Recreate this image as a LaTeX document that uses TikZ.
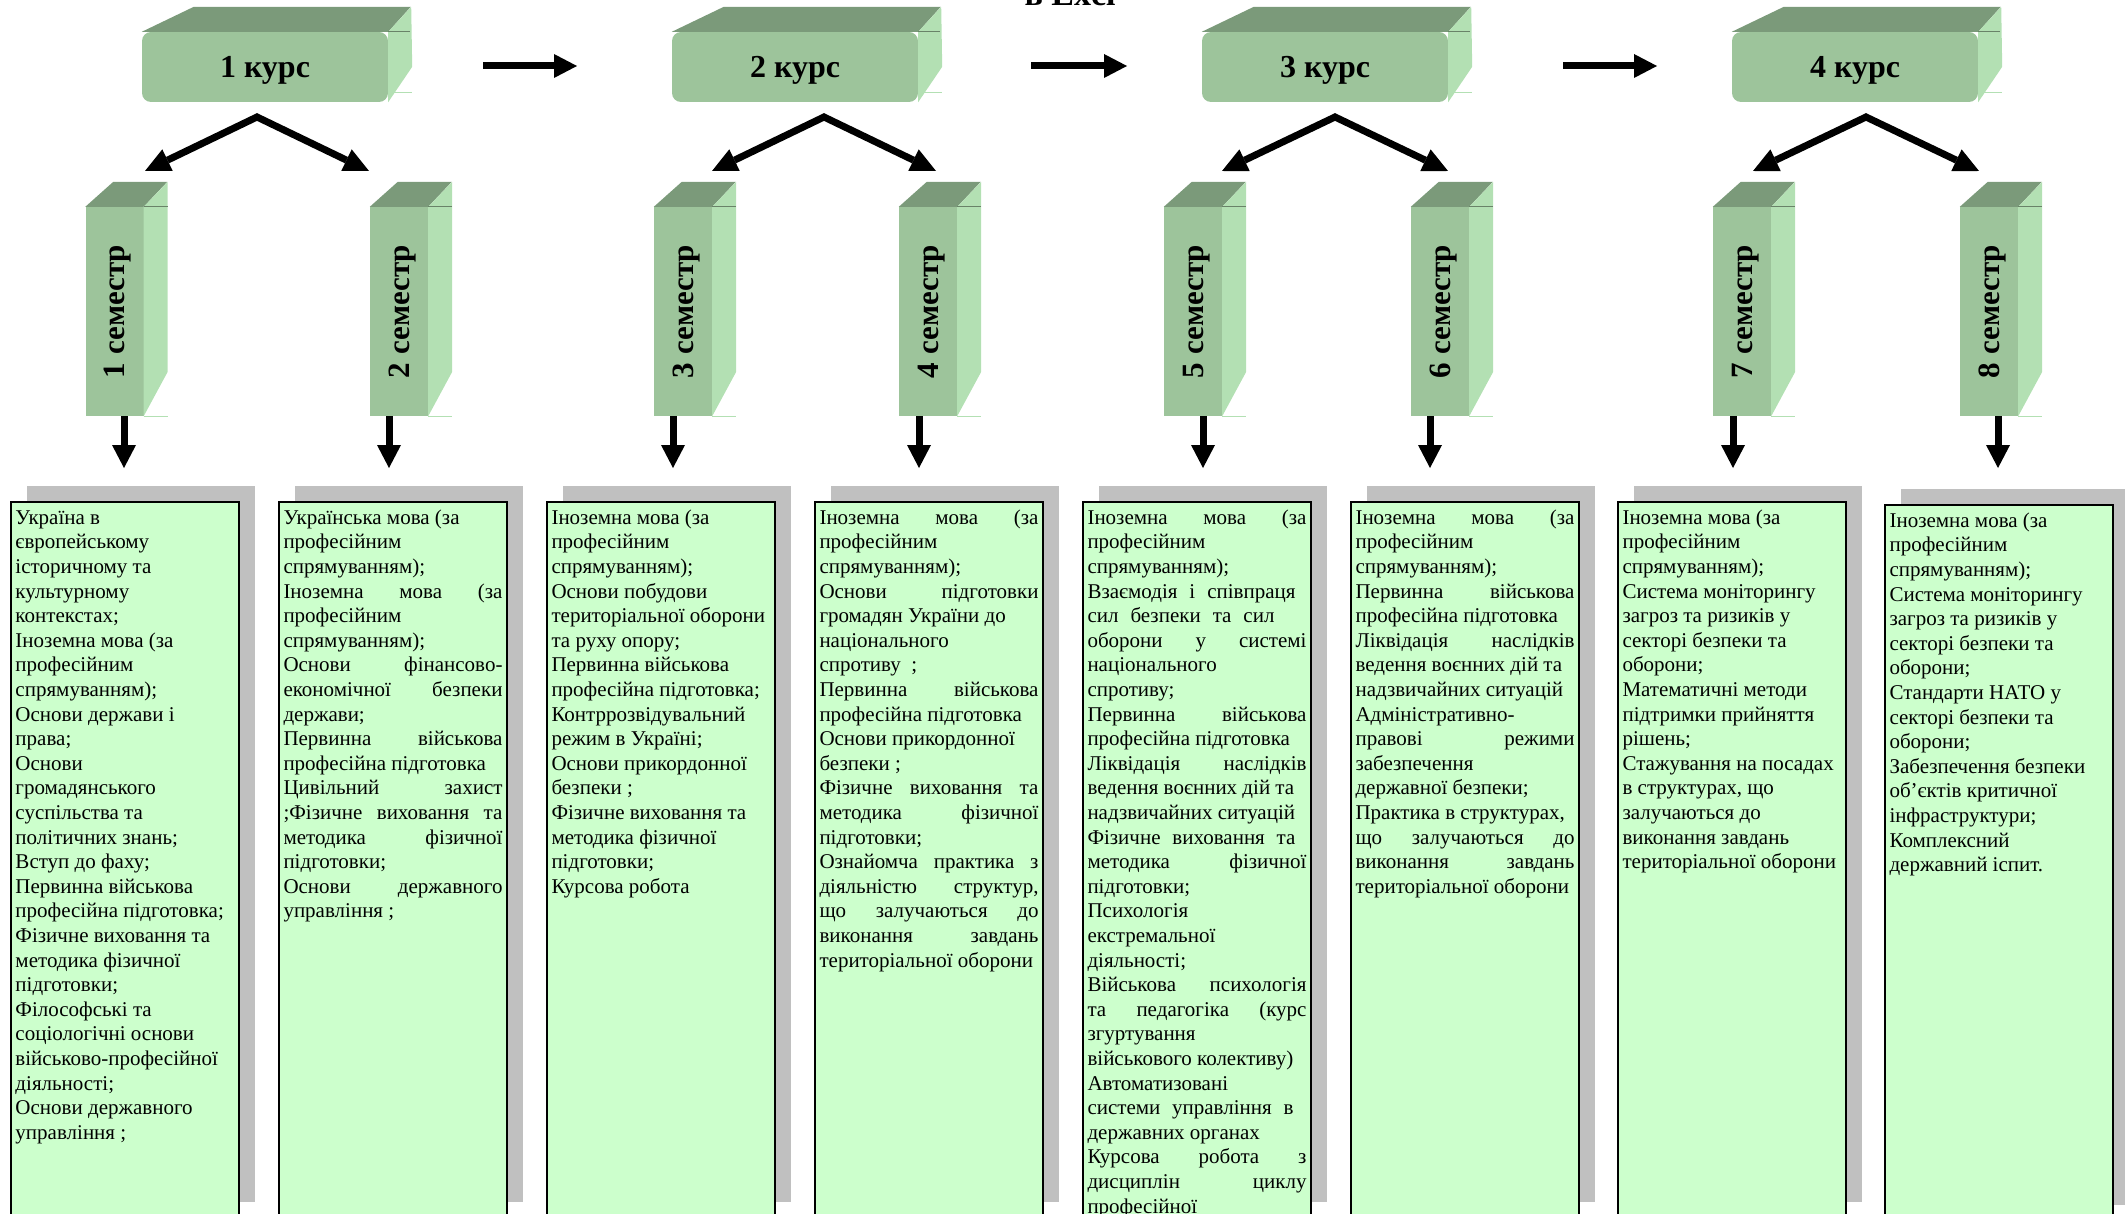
\documentclass[tikz,border=0pt]{standalone}
\usepackage{graphicx}
\usepackage{fontspec}
\setmainfont{Liberation Serif}
\usetikzlibrary{arrows.meta,shadows}
\definecolor{frontgr}{HTML}{9DC49B}
\definecolor{topgr}{HTML}{7B9A7A}
\definecolor{sidegr}{HTML}{B3E0B3}
\definecolor{boxgr}{HTML}{CCFFCC}
\definecolor{shadowgr}{HTML}{C0C0C0}
\newlength\colw \setlength\colw{219pt}
\newcommand\jl[2][\colw]{\makebox[#1][s]{#2}}
\newcommand\kurstxt[1]{\raisebox{0pt}[\height][0pt]{#1}}
\newcommand\semtxt[1]{\rotatebox{90}{\raisebox{0pt}[\height][0pt]{#1}}}
\newcommand\dtext[1]{\makebox[\colw][l]{\parbox[t][706pt][t]{260pt}{\raggedright\strut #1}}}

\begin{document}
\begin{tikzpicture}[x=1pt,y=-1pt,
    kurs/.style={fill=frontgr,rounded corners=9pt,minimum width=246pt,minimum height=70pt,inner sep=0pt,font=\fontsize{32pt}{34pt}\selectfont\bfseries},
    semf/.style={fill=frontgr,minimum width=58pt,minimum height=209pt,inner sep=0pt,font=\fontsize{31pt}{33pt}\selectfont\bfseries},
    topf/.style={fill=topgr}, sidef/.style={fill=sidegr},
    edgel/.style={draw=topgr!85!black,line width=1pt}, palel/.style={draw=sidegr,line width=1pt},
    dbox/.style={draw,line width=2pt,fill=boxgr,anchor=north west,inner xsep=4.5pt,inner ysep=5pt,font=\fontsize{21pt}{24.6pt}\selectfont,drop shadow={shadow xshift=16pt,shadow yshift=16pt,fill=shadowgr,opacity=1}},
    arr/.style={line width=7pt,-{Triangle[length=23pt,width=24pt,line width=0pt]}},
    fork/.style={line width=7pt,{Triangle[length=25pt,width=24pt,line width=0pt]}-{Triangle[length=25pt,width=24pt,line width=0pt]}}]
    \useasboundingbox (0,0) rectangle (2125,1214);
    \node [anchor=base west,font=\fontsize{34pt}{36pt}\selectfont\bfseries] (ttl) at (1021,6) {в Excl};
    % courses
    \node [kurs] (k1) at (265,67) {\kurstxt{1 курс}}; \node [kurs] (k2) at
    (795,67) {\kurstxt{2 курс}}; \node [kurs] (k3) at (1325,67)
    {\kurstxt{3 курс}}; \node [kurs] (k4) at (1855,67) {\kurstxt{4 курс}};
    \fill [topf] (k1.north west) -- ++(52,-25) -- ++(217,0) -- (k1.north east) -- cycle;
    \fill [sidef] (k1.north east) -- ++(23,-25) -- ++(1,60) -- (k1.south east) -- cycle;
    \fill [topf] (k2.north west) -- ++(52,-25) -- ++(217,0) -- (k2.north east) -- cycle;
    \fill [sidef] (k2.north east) -- ++(23,-25) -- ++(1,60) -- (k2.south east) -- cycle;
    \fill [topf] (k3.north west) -- ++(52,-25) -- ++(217,0) -- (k3.north east) -- cycle;
    \fill [sidef] (k3.north east) -- ++(23,-25) -- ++(1,60) -- (k3.south east) -- cycle;
    \fill [topf] (k4.north west) -- ++(52,-25) -- ++(217,0) -- (k4.north east) -- cycle;
    \fill [sidef] (k4.north east) -- ++(23,-25) -- ++(1,60) -- (k4.south east) -- cycle;
    \draw [edgel] (k1.north east) -- ++(22,0); \draw [palel] (k1.south east) ++(0,-10) -- ++(24,0);
    \draw [edgel] (k2.north east) -- ++(22,0); \draw [palel] (k2.south east) ++(0,-10) -- ++(24,0);
    \draw [edgel] (k3.north east) -- ++(22,0); \draw [palel] (k3.south east) ++(0,-10) -- ++(24,0);
    \draw [edgel] (k4.north east) -- ++(22,0); \draw [palel] (k4.south east) ++(0,-10) -- ++(24,0);
    \coordinate (h1a) at (483,66); \coordinate (h1b) at (577,66); \coordinate (h2a) at
    (1031,66); \coordinate (h2b) at (1127,66); \coordinate (h3a) at (1563,66);
    \coordinate (h3b) at (1657,66); \draw [arr] (h1a) -- (h1b); \draw [arr] (h2a) --
    (h2b); \draw [arr] (h3a) -- (h3b);
    % semesters
    \node [semf] (s1) at (114.5,311.5) {\semtxt{1 семестр}}; \node [semf] (s2) at
    (399,311.5) {\semtxt{2 семестр}}; \node [semf] (s3) at (683,311.5)
    {\semtxt{3 семестр}}; \node [semf] (s4) at (928,311.5) {\semtxt{4 семестр}};
    \node [semf] (s5) at (1193,311.5) {\semtxt{5 семестр}}; \node [semf] (s6) at
    (1440,311.5) {\semtxt{6 семестр}}; \node [semf] (s7) at (1742,311.5)
    {\semtxt{7 семестр}}; \node [semf] (s8) at (1989,311.5) {\semtxt{8 семестр}};
    \fill [topf] (s1.north west) -- ++(28,-25) -- ++(54,0) -- (s1.north east) -- cycle;
    \fill [sidef] (s1.north east) -- ++(24,-25) -- ++(0,190) -- (s1.south east) -- cycle;
    \fill [topf] (s2.north west) -- ++(28,-25) -- ++(54,0) -- (s2.north east) -- cycle;
    \fill [sidef] (s2.north east) -- ++(24,-25) -- ++(0,190) -- (s2.south east) -- cycle;
    \fill [topf] (s3.north west) -- ++(28,-25) -- ++(54,0) -- (s3.north east) -- cycle;
    \fill [sidef] (s3.north east) -- ++(24,-25) -- ++(0,190) -- (s3.south east) -- cycle;
    \fill [topf] (s4.north west) -- ++(28,-25) -- ++(54,0) -- (s4.north east) -- cycle;
    \fill [sidef] (s4.north east) -- ++(24,-25) -- ++(0,190) -- (s4.south east) -- cycle;
    \fill [topf] (s5.north west) -- ++(28,-25) -- ++(54,0) -- (s5.north east) -- cycle;
    \fill [sidef] (s5.north east) -- ++(24,-25) -- ++(0,190) -- (s5.south east) -- cycle;
    \fill [topf] (s6.north west) -- ++(28,-25) -- ++(54,0) -- (s6.north east) -- cycle;
    \fill [sidef] (s6.north east) -- ++(24,-25) -- ++(0,190) -- (s6.south east) -- cycle;
    \fill [topf] (s7.north west) -- ++(28,-25) -- ++(54,0) -- (s7.north east) -- cycle;
    \fill [sidef] (s7.north east) -- ++(24,-25) -- ++(0,190) -- (s7.south east) -- cycle;
    \fill [topf] (s8.north west) -- ++(28,-25) -- ++(54,0) -- (s8.north east) -- cycle;
    \fill [sidef] (s8.north east) -- ++(24,-25) -- ++(0,190) -- (s8.south east) -- cycle;
    \draw [edgel] (s1.north east) -- ++(24,0); \draw [palel] (s1.south east) -- ++(24,0);
    \draw [edgel] (s2.north east) -- ++(24,0); \draw [palel] (s2.south east) -- ++(24,0);
    \draw [edgel] (s3.north east) -- ++(24,0); \draw [palel] (s3.south east) -- ++(24,0);
    \draw [edgel] (s4.north east) -- ++(24,0); \draw [palel] (s4.south east) -- ++(24,0);
    \draw [edgel] (s5.north east) -- ++(24,0); \draw [palel] (s5.south east) -- ++(24,0);
    \draw [edgel] (s6.north east) -- ++(24,0); \draw [palel] (s6.south east) -- ++(24,0);
    \draw [edgel] (s7.north east) -- ++(24,0); \draw [palel] (s7.south east) -- ++(24,0);
    \draw [edgel] (s8.north east) -- ++(24,0); \draw [palel] (s8.south east) -- ++(24,0);
    % forks from course to semesters
    \coordinate (f1) at (257,117); \coordinate (f1l) at (145,171); \coordinate (f1r) at
    (369,171); \coordinate (f2) at (824,117); \coordinate (f2l) at (712,171);
    \coordinate (f2r) at (936,171); \coordinate (f3) at (1335,117); \coordinate (f3l)
    at (1222,171); \coordinate (f3r) at (1448,171); \coordinate (f4) at (1866,117);
    \coordinate (f4l) at (1753,171); \coordinate (f4r) at (1979,171);
    \draw [fork] (f1l) -- (f1) -- (f1r); \draw [fork] (f2l) -- (f2) -- (f2r);
    \draw [fork] (f3l) -- (f3) -- (f3r); \draw [fork] (f4l) -- (f4) -- (f4r);
    % down arrows
    \coordinate (v1a) at (124,416); \coordinate (v1b) at (124,468); \coordinate (v2a) at
    (389,416); \coordinate (v2b) at (389,468); \coordinate (v3a) at (673,416);
    \coordinate (v3b) at (673,468); \coordinate (v4a) at (919,416); \coordinate (v4b)
    at (919,468); \coordinate (v5a) at (1203,416); \coordinate (v5b) at (1203,468);
    \coordinate (v6a) at (1430,416); \coordinate (v6b) at (1430,468); \coordinate
    (v7a) at (1733,416); \coordinate (v7b) at (1733,468); \coordinate (v8a) at
    (1998,416); \coordinate (v8b) at (1998,468);
    \draw [arr] (v1a) -- (v1b); \draw [arr] (v2a) -- (v2b); \draw [arr] (v3a) -- (v3b);
    \draw [arr] (v4a) -- (v4b); \draw [arr] (v5a) -- (v5b); \draw [arr] (v6a) -- (v6b);
    \draw [arr] (v7a) -- (v7b); \draw [arr] (v8a) -- (v8b);
    % subjects
    \node [dbox] (d1) at (10,501) {\dtext{Україна в\\ європейському\\ історичному та\\
        культурному\\ контекстах;\\ Іноземна мова (за\\ професійним\\ спрямуванням);\\
        Основи держави і\\ права;\\ Основи\\ громадянського\\ суспільства та\\ політичних
        знань;\\ Вступ до фаху;\\ Первинна військова\\ професійна підготовка;\\ Фізичне
        виховання та\\ методика фізичної\\ підготовки;\\ Філософські та\\ соціологічні
        основи\\ військово-професійної\\ діяльності;\\ Основи державного\\ управління ;}};
    \node [dbox] (d2) at (278,501) {\dtext{Українська мова (за\\ професійним\\
        спрямуванням);\\ \jl{Іноземна мова (за}\\ професійним\\ спрямуванням);\\
        \jl{Основи фінансово-}\\ \jl{економічної безпеки}\\ держави;\\ \jl{Первинна
          військова}\\ професійна підготовка\\ \jl{Цивільний захист}\\ \jl{;Фізичне
          виховання та}\\ \jl{методика фізичної}\\ підготовки;\\ \jl{Основи
          державного}\\ управління ;}};
    \node [dbox] (d3) at (546,501) {\dtext{Іноземна мова (за\\ професійним\\
        спрямуванням);\\ Основи побудови\\ територіальної оборони\\ та руху опору;\\
        Первинна військова\\ професійна підготовка;\\ Контррозвідувальний\\ режим в
        Україні;\\ Основи прикордонної\\ безпеки ;\\ Фізичне виховання та\\ методика
        фізичної\\ підготовки;\\ Курсова робота}};
    \node [dbox] (d4) at (814,501) {\dtext{\jl{Іноземна мова (за}\\ професійним\\
        спрямуванням);\\ \jl{Основи підготовки}\\ громадян України до\\ національного\\
        спротиву\ \ ;\\ \jl{Первинна військова}\\ професійна підготовка\\ Основи
        прикордонної\\ безпеки ;\\ \jl{Фізичне виховання та}\\ \jl{методика фізичної}\\
        підготовки;\\ \jl{Ознайомча практика з}\\ \jl{діяльністю структур,}\\ \jl{що
          залучаються до}\\ \jl{виконання завдань}\\ територіальної оборони}};
    \node [dbox] (d5) at (1082,501) {\dtext{\jl{Іноземна мова (за}\\ професійним\\
        спрямуванням);\\ \jl[208pt]{Взаємодія і співпраця}\\ \jl[187pt]{сил безпеки та
          сил}\\ \jl{оборони у системі}\\ національного\\ спротиву;\\ \jl{Первинна
          військова}\\ професійна підготовка\\ \jl{Ліквідація наслідків}\\ ведення
        воєнних дій та\\ надзвичайних ситуацій\\ \jl[208pt]{Фізичне виховання та}\\
        \jl{методика фізичної}\\ підготовки;\\ Психологія\\ екстремальної\\
        діяльності;\\ \jl{Військова психологія}\\ \jl{та педагогіка (курс}\\
        згуртування\\ військового колективу)\\ Автоматизовані\\ \jl[206pt]{системи
          управління в}\\ державних органах\\ \jl{Курсова робота з}\\ \jl{дисциплін
          циклу}\\ професійної}};
    \node [dbox] (d6) at (1350,501) {\dtext{\jl{Іноземна мова (за}\\ професійним\\
        спрямуванням);\\ \jl{Первинна військова}\\ професійна підготовка\\
        \jl{Ліквідація наслідків}\\ ведення воєнних дій та\\ надзвичайних ситуацій\\
        Адміністративно-\\ \jl{правові режими}\\ забезпечення\\ державної безпеки;\\
        Практика в структурах,\\ \jl{що залучаються до}\\ \jl{виконання завдань}\\
        територіальної оборони}};
    \node [dbox] (d7) at (1617,501) {\dtext{Іноземна мова (за\\ професійним\\
        спрямуванням);\\ Система моніторингу\\ загроз та ризиків у\\ секторі безпеки
        та\\ оборони;\\ Математичні методи\\ підтримки прийняття\\ рішень;\\ Стажування
        на посадах\\ в структурах, що\\ залучаються до\\ виконання завдань\\
        територіальної оборони}};
    \node [dbox] (d8) at (1884,504) {\dtext{Іноземна мова (за\\ професійним\\
        спрямуванням);\\ Система моніторингу\\ загроз та ризиків у\\ секторі безпеки
        та\\ оборони;\\ Стандарти НАТО у\\ секторі безпеки та\\ оборони;\\ Забезпечення
        безпеки\\ об’єктів критичної\\ інфраструктури;\\ Комплексний\\ державний
        іспит.}};
\end{tikzpicture}
\end{document}
